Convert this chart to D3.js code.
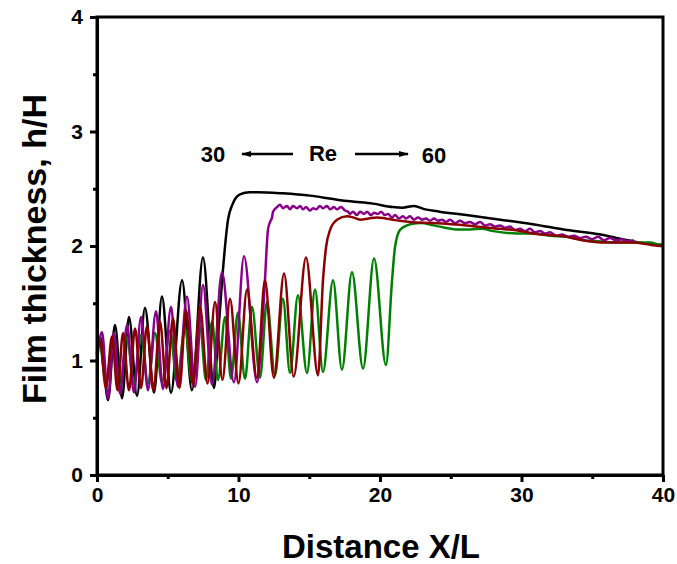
<!DOCTYPE html>
<html>
<head>
<meta charset="utf-8">
<script src="https://cdn.jsdelivr.net/npm/d3@7"></script>
<style>
  html, body { margin: 0; padding: 0; background: #fff; }
  svg { display: block; font-family: "Liberation Sans", Arial, sans-serif; }
</style>
</head>
<body>
<svg id="chart" width="677" height="564"></svg>
<script>
// ---------- data ----------
const xTicks = [0, 10, 20, 30, 40];
const xMinorTicks = [5, 15, 25, 35];
const yTicks = [0, 1, 2, 3, 4];
const yMinorTicks = [0.5, 1.5, 2.5, 3.5];

const xLabel = "Distance X/L";
const yLabel = "Film thickness, h/H";
const annotLow = "30", annotMid = "Re", annotHigh = "60";

// Re = 30 (black)
const blackX = [0, 0.25, 0.78, 1.27, 1.77, 2.26, 2.83, 3.39, 4.03, 4.59, 5.23, 6.01, 6.71, 7.49, 8.27,
  8.55, 8.9, 9.26, 9.6, 10.1, 10.8, 11.3, 13.1, 15.05, 16.7, 17.9, 19.5, 20.9, 21.6, 22.4, 23.2,
  24.2, 26.1, 28.5, 30.8, 33.2, 35.6, 36.7, 37.9, 39.8, 40];
const blackY = [1.08, 1.2, 0.655, 1.31, 0.67, 1.38, 0.69, 1.46, 0.72, 1.56, 0.72, 1.70, 0.74, 1.90, 0.76,
  1.2, 1.79, 2.23, 2.37, 2.45, 2.47, 2.47, 2.46, 2.44, 2.41, 2.39, 2.37, 2.34, 2.335, 2.35, 2.32,
  2.30, 2.27, 2.23, 2.19, 2.14, 2.10, 2.07, 2.04, 2.01, 2.01];

// Re = 40 (purple)
const purpleX = [0, 0.35, 0.78, 1.2, 1.63, 2.12, 2.61, 3.11, 3.6, 4.17, 4.66, 5.23, 5.72, 6.36, 6.93,
  7.49, 8.13, 8.83, 9.68, 10.39, 11.31, 11.66, 11.87, 12.08, 12.23, 12.37, 12.44,
  12.72, 12.93, 13.14, 13.43, 13.64, 13.85, 14.13, 14.35, 14.56, 14.77, 15.05, 15.27, 15.48, 15.76,
  15.97, 16.25, 16.47, 16.75, 16.96, 17.24, 17.53, 17.74, 17.88, 18.09, 18.37, 18.59, 18.87, 19.08,
  19.36, 19.58, 19.86, 20.07, 20.35, 20.57, 20.85, 21.06, 21.34, 21.63, 21.84, 22.12, 22.4, 22.69,
  22.97, 23.25, 23.53, 23.82, 24.1, 24.38, 24.66, 24.95, 25.3, 25.65, 26.0, 26.36, 26.71, 27.07,
  27.42, 27.77, 28.13, 28.48, 28.83, 29.19, 29.54, 29.89, 30.25, 30.6, 30.95, 31.31, 31.66, 32.01,
  32.44, 32.86, 33.29, 33.71, 34.13, 34.56, 34.98, 35.41, 35.83, 36.25, 36.68, 37.1, 37.53, 37.95];
const purpleY = [1.0, 1.25, 0.67, 1.24, 0.71, 1.31, 0.72, 1.38, 0.74, 1.43, 0.75, 1.47, 0.77, 1.56, 0.77,
  1.66, 0.79, 1.77, 0.81, 1.91, 0.81, 1.27, 1.70, 2.14, 2.21, 2.25, 2.30,
  2.34, 2.36, 2.33, 2.35, 2.32, 2.35, 2.33, 2.35, 2.32, 2.34, 2.31, 2.33, 2.32, 2.35,
  2.33, 2.35, 2.32, 2.34, 2.32, 2.34, 2.31, 2.30, 2.28, 2.30, 2.27, 2.30, 2.28, 2.30,
  2.27, 2.29, 2.28, 2.30, 2.27, 2.28, 2.25, 2.27, 2.24, 2.26, 2.24, 2.26, 2.23, 2.25,
  2.23, 2.24, 2.22, 2.24, 2.22, 2.23, 2.21, 2.23, 2.20, 2.22, 2.20, 2.21, 2.19, 2.21,
  2.18, 2.19, 2.17, 2.18, 2.16, 2.17, 2.14, 2.15, 2.13, 2.15, 2.12, 2.13, 2.11, 2.12,
  2.09, 2.10, 2.08, 2.09, 2.07, 2.08, 2.06, 2.08, 2.05, 2.07, 2.05, 2.06, 2.04, 2.05];

// Re = 50 (dark red)
const redX = [0, 0.21, 0.63, 1.06, 1.45, 1.84, 2.26, 2.69, 3.11, 3.53, 3.99, 4.45, 4.91, 5.37, 5.83,
  6.29, 6.78, 7.28, 7.81, 8.34, 8.87, 9.40, 10.0, 10.6, 11.3, 11.87, 12.5, 13.22, 13.9, 14.77, 15.62,
  15.97, 16.2, 16.47, 16.96, 17.67, 18.1, 18.59, 19.2, 19.79, 20.4, 20.92, 21.4, 22.12, 23.7, 26.1,
  28.5, 29.5, 30.8, 33.2, 34.3, 36.0, 37.9, 39.1, 39.8, 40];
const redY = [1.06, 1.18, 0.76, 1.21, 0.74, 1.24, 0.74, 1.28, 0.76, 1.30, 0.74, 1.34, 0.76, 1.37, 0.76,
  1.44, 0.79, 1.47, 0.80, 1.51, 0.83, 1.54, 0.80, 1.62, 0.85, 1.70, 0.85, 1.76, 0.86, 1.90, 0.87,
  1.70, 2.0, 2.14, 2.23, 2.26, 2.25, 2.23, 2.24, 2.25, 2.24, 2.23, 2.22, 2.21, 2.20, 2.18,
  2.15, 2.14, 2.11, 2.08, 2.05, 2.03, 2.03, 2.01, 2.00, 2.00];

// Re = 60 (green)
const greenX = [0, 0.14, 0.64, 1.13, 1.63, 2.12, 2.61, 3.11, 3.6, 4.10, 4.59, 5.16, 5.65, 6.22, 6.71,
  7.28, 7.7, 8.13, 8.55, 9.05, 9.47, 9.96, 10.46, 10.95, 11.52, 12.01, 12.58, 13.14, 13.64, 14.2,
  14.84, 15.41, 15.97, 16.68, 17.31, 18.02, 18.8, 19.58, 20.42,
  20.85, 21.06, 21.41, 21.91, 22.3, 22.9, 23.8, 24.6, 25.5, 26.4, 27.2, 28.0, 29.7, 30.8, 32.0,
  33.2, 34.4, 35.6, 36.8, 38.0, 39.1, 39.8, 40];
const greenY = [1.05, 1.20, 0.80, 1.18, 0.78, 1.20, 0.80, 1.22, 0.80, 1.24, 0.81, 1.26, 0.82, 1.28, 0.82,
  1.31, 0.83, 1.34, 0.83, 1.38, 0.84, 1.42, 0.84, 1.47, 0.85, 1.51, 0.87, 1.54, 0.89, 1.57,
  0.89, 1.62, 0.90, 1.70, 0.92, 1.77, 0.93, 1.89, 0.96,
  1.70, 1.99, 2.14, 2.18, 2.195, 2.20, 2.18, 2.16, 2.145, 2.145, 2.15, 2.13, 2.11, 2.11, 2.09,
  2.08, 2.05, 2.04, 2.03, 2.03, 2.03, 2.01, 2.01];

const seriesNames = ["Re30", "Re60", "Re40", "Re50"];
const seriesColors = ["#000000", "#008000", "#8B008B", "#8B0000"];
const seriesXs = [blackX, greenX, purpleX, redX];
const seriesYs = [blackY, greenY, purpleY, redY];

// ---------- drawing ----------
(function () {
  const svg = d3.select("#chart");
  const pL = 97, pR = 663, pT = 17, pB = 475;
  const x = d3.scaleLinear().domain([0, 40]).range([pL, pR]);
  const y = d3.scaleLinear().domain([0, 4]).range([pB, pT]);

  const line = d3.line()
    .x(d => x(d[0]))
    .y(d => y(d[1]))
    .curve(d3.curveMonotoneX);

  const plot = svg.append("g");
  seriesNames.forEach((name, i) => {
    const pts = seriesXs[i].map((v, j) => [v, seriesYs[i][j]]);
    plot.append("path")
      .datum(pts)
      .attr("fill", "none")
      .attr("stroke", seriesColors[i])
      .attr("stroke-width", 2.5)
      .attr("stroke-linejoin", "round")
      .attr("d", line);
  });

  // frame
  svg.append("rect")
    .attr("x", pL).attr("y", pT)
    .attr("width", pR - pL).attr("height", pB - pT)
    .attr("fill", "none").attr("stroke", "#000").attr("stroke-width", 3);

  function styleAxis(g) {
    g.select(".domain").attr("stroke-width", 3);
    g.selectAll(".tick line").attr("stroke-width", 3);
    g.selectAll(".tick text")
      .attr("font-size", 21).attr("font-weight", "bold")
      .attr("font-family", "'Liberation Sans', Arial, sans-serif").attr("fill", "#000");
  }

  const fmt = d3.format("d");
  svg.append("g").attr("transform", `translate(0,${pB})`)
    .call(d3.axisBottom(x).tickValues(xTicks).tickFormat(fmt).tickSize(7).tickPadding(5).tickSizeOuter(0))
    .call(styleAxis);
  svg.append("g").attr("transform", `translate(0,${pB})`)
    .call(d3.axisBottom(x).tickValues(xMinorTicks).tickSize(4).tickFormat("").tickSizeOuter(0))
    .call(styleAxis);

  svg.append("g").attr("transform", `translate(${pL},0)`)
    .call(d3.axisLeft(y).tickValues(yTicks).tickFormat(fmt).tickSize(7).tickPadding(7).tickSizeOuter(0))
    .call(styleAxis);
  svg.append("g").attr("transform", `translate(${pL},0)`)
    .call(d3.axisLeft(y).tickValues(yMinorTicks).tickSize(4).tickFormat("").tickSizeOuter(0))
    .call(styleAxis);

  // axis titles
  svg.append("text")
    .attr("x", 381).attr("y", 558)
    .attr("text-anchor", "middle")
    .attr("font-size", 33).attr("font-weight", "bold")
    .text(xLabel);

  svg.append("text")
    .attr("transform", `translate(46,249) rotate(-90)`)
    .attr("text-anchor", "middle")
    .attr("font-size", 34).attr("font-weight", "bold")
    .text(yLabel);

  // annotation
  const ann = svg.append("g").attr("font-weight", "bold").attr("font-size", 22);
  ann.append("text").attr("x", 213).attr("y", 162).attr("text-anchor", "middle").text(annotLow);
  ann.append("text").attr("x", 323).attr("y", 161).attr("text-anchor", "middle").text(annotMid);
  ann.append("text").attr("x", 434).attr("y", 163).attr("text-anchor", "middle").text(annotHigh);

  svg.append("defs").append("marker")
    .attr("id", "ah").attr("viewBox", "0 0 10 6")
    .attr("refX", 9).attr("refY", 3)
    .attr("markerWidth", 4).attr("markerHeight", 2.6)
    .attr("markerUnits", "strokeWidth")
    .attr("orient", "auto")
    .append("path").attr("d", "M0,0 L10,3 L0,6 Z").attr("fill", "#000");

  svg.append("line").attr("x1", 293).attr("y1", 154).attr("x2", 242).attr("y2", 154)
    .attr("stroke", "#000").attr("stroke-width", 2.5).attr("marker-end", "url(#ah)");
  svg.append("line").attr("x1", 355).attr("y1", 154).attr("x2", 408).attr("y2", 154)
    .attr("stroke", "#000").attr("stroke-width", 2.5).attr("marker-end", "url(#ah)");
})();
</script>
</body>
</html>
